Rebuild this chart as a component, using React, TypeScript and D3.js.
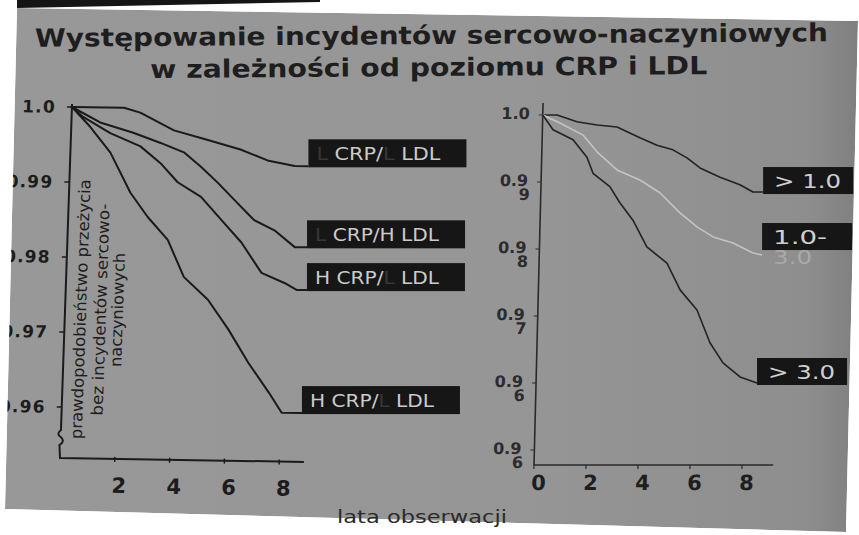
import * as d3 from "d3";
import { useEffect, useRef } from "react";

const W = 859;
const H = 535;

// Title
const titleLines = [
  "Występowanie incydentów sercowo-naczyniowych",
  "w zależności od poziomu CRP i LDL",
];
const xTitle = "lata obserwacji";

// Left panel: CRP / LDL groups
const leftYTicks = [1.0, 0.99, 0.98, 0.97, 0.96];
const leftYTickLabels = ["1.0", "0.99", "0.98", "0.97", "0.96"];
const leftXTicks = [2, 4, 6, 8];
const leftYTitle = ["prawdopodobieństwo przeżycia", "bez incydentów sercowo-", "naczyniowych"];
// level letters in each label: [CRP, LDL]
const leftLevels = [
  ["L", "L"],
  ["L", "H"],
  ["H", "L"],
  ["H", "L"],
];
const lowCrpLowLdl: [number, number][] = [
  [0, 1.0], [1.9, 1.0], [2.5, 0.9994], [3.75, 0.9971], [5.0, 0.9959], [6.2, 0.9947],
  [7.2, 0.9933], [8.2, 0.9926], [8.7, 0.9926],
];
const lowCrpHighLdl: [number, number][] = [
  [0, 1.0], [1.05, 0.998], [2.27, 0.9967], [3.28, 0.9954], [4.14, 0.9942], [4.78, 0.9923],
  [5.42, 0.9902], [6.03, 0.988], [6.79, 0.9853], [7.54, 0.984], [8.3, 0.9818], [8.75, 0.9818],
];
const highCrpLowLdl: [number, number][] = [
  [0, 1.0], [0.42, 0.9987], [1.43, 0.9966], [2.55, 0.9949], [3.3, 0.9927], [3.95, 0.9902],
  [4.82, 0.9883], [5.58, 0.9853], [6.35, 0.9823], [7.12, 0.9783], [7.97, 0.977], [8.42, 0.9761],
  [8.8, 0.9761],
];
const highCrpHighLdl: [number, number][] = [
  [0, 1.0], [0.69, 0.9974], [1.46, 0.994], [2.24, 0.9887], [2.9, 0.9855], [3.66, 0.9825],
  [4.29, 0.9776], [5.2, 0.9746], [5.98, 0.9707], [6.75, 0.9663], [7.53, 0.9624], [8.03, 0.9597],
  [8.77, 0.9597],
];
const leftSeries = [lowCrpLowLdl, lowCrpHighLdl, highCrpLowLdl, highCrpHighLdl];

// Right panel: CRP classes
const rightYTicks = [1.0, 0.99, 0.98, 0.97, 0.96, 0.95];
const rightYTickMain = ["1.0", "0.9", "0.9", "0.9", "0.9", "0.9"];
const rightYTickSub = ["", "9", "8", "7", "6", "6"];
const rightXTicks = [0, 2, 4, 6, 8];
const rightLabels = [["> 1.0"], ["1.0-", "3.0"], ["> 3.0"]];
const crpBelow1: [number, number][] = [
  [0, 1.0], [0.55, 1.0], [1.32, 0.999], [2.1, 0.9985], [2.87, 0.9982], [3.26, 0.9975],
  [3.76, 0.9966], [4.42, 0.9955], [5.04, 0.9948], [5.59, 0.9936], [6.1, 0.9921], [6.88, 0.9907],
  [7.65, 0.9896], [8.16, 0.9885], [8.55, 0.9885],
];
const crp1to3: [number, number][] = [
  [0, 1.0], [0.67, 0.9988], [1.57, 0.997], [2.12, 0.9945], [2.91, 0.9918], [3.8, 0.9903],
  [4.58, 0.9884], [5.37, 0.9854], [6.04, 0.9833], [6.67, 0.9818], [7.44, 0.9809], [8.22, 0.9794],
  [8.57, 0.9791],
];
const crpAbove3: [number, number][] = [
  [0, 1.0], [0.41, 0.9978], [1.19, 0.9963], [1.74, 0.9937], [1.99, 0.9913], [2.65, 0.9893],
  [3.05, 0.9869], [3.57, 0.9843], [4.13, 0.9803], [4.92, 0.9779], [5.45, 0.9739], [6.12, 0.9709],
  [6.65, 0.966], [7.17, 0.963], [7.84, 0.9609], [8.5, 0.96],
];
const rightSeries = [crpBelow1, crp1to3, crpAbove3];
const rightColors = ["#232323", "#c3c3c3", "#232323"];

const FONT = "'DejaVu Sans', sans-serif";

export default function App() {
  const ref = useRef<SVGSVGElement>(null);

  useEffect(() => {
    if (!ref.current) return;
    const svg = d3.select(ref.current);
    svg.selectAll("*").remove();

    // slide background (photo of a projected slide)
    const defs = svg.append("defs");
    const grad = defs.append("linearGradient").attr("id", "slideGrad")
      .attr("x1", "0").attr("x2", "1").attr("y1", "0").attr("y2", "0");
    grad.append("stop").attr("offset", "0").attr("stop-color", "#989898");
    grad.append("stop").attr("offset", "0.6").attr("stop-color", "#969696");
    grad.append("stop").attr("offset", "0.94").attr("stop-color", "#8e8e8e");
    grad.append("stop").attr("offset", "1").attr("stop-color", "#7f7f7f");

    const slide = [[17, 8], [858, 21], [846, 532], [5, 509]];
    svg.append("rect").attr("width", W).attr("height", H).attr("fill", "#ffffff");
    svg.append("polygon").attr("points", slide.map((p) => p.join(",")).join(" "))
      .attr("fill", "url(#slideGrad)");

    // title
    const title = svg.append("g").attr("transform", "rotate(-0.4, 430, 45)")
      .style("font-family", FONT).style("font-weight", "bold").attr("fill", "#1e1e1e");
    title.append("text").attr("x", 35).attr("y", 44).style("font-size", "25px")
      .attr("textLength", 793).attr("lengthAdjust", "spacingAndGlyphs").text(titleLines[0]);
    title.append("text").attr("x", 150).attr("y", 76).style("font-size", "25px")
      .attr("textLength", 557).attr("lengthAdjust", "spacingAndGlyphs").text(titleLines[1]);

    // ---------- left panel ----------
    const lm = { a: 1, b: 0.016, c: -0.034, d: 1, e: 15.57, f: -0.96 };
    const toScreen = (m: typeof lm, x: number, y: number) => [m.a * x + m.c * y + m.e, m.b * x + m.d * y + m.f];
    const xL = d3.scaleLinear().domain([0, 8]).range([60, 279.2]);
    const yL = d3.scaleLinear().domain([0.95, 1.0]).range([482, 107]);
    const gL = svg.append("g").attr("transform", `matrix(${lm.a},${lm.b},${lm.c},${lm.d},${lm.e},${lm.f})`);

    const axisColor = "#1b1b1b";
    const yBottomL = yL(0.9532);
    gL.append("path")
      .attr("d", `M${xL(0)},${yL(1.0) - 3}V${yBottomL - 28}q-5,4 0,7q5,4 -1,8L${xL(0)},${yBottomL}H${xL(8.9)}`)
      .attr("fill", "none").attr("stroke", axisColor).attr("stroke-width", 2);
    gL.selectAll(".ytick").data(leftYTicks).enter().append("line")
      .attr("x1", xL(0) - 5).attr("x2", xL(0)).attr("y1", (d) => yL(d)).attr("y2", (d) => yL(d))
      .attr("stroke", axisColor).attr("stroke-width", 1.5);
    gL.selectAll(".ylab").data(leftYTicks).enter().append("text")
      .attr("x", 44).attr("y", (d) => yL(d) + 6).attr("text-anchor", "end")
      .style("font-family", FONT).style("font-weight", "bold").style("font-size", "17px")
      .style("letter-spacing", "1.2px").attr("fill", "#1c1c1c")
      .text((_d, i) => leftYTickLabels[i]);
    gL.selectAll(".xtick").data(leftXTicks).enter().append("line")
      .attr("x1", (d) => xL(d)).attr("x2", (d) => xL(d)).attr("y1", yBottomL - 2).attr("y2", yBottomL + 3)
      .attr("stroke", axisColor).attr("stroke-width", 1.5);
    gL.selectAll(".xlab").data(leftXTicks).enter().append("text")
      .attr("x", (d) => xL(d) + 5).attr("y", 492).attr("text-anchor", "middle")
      .style("font-family", FONT).style("font-weight", "bold").style("font-size", "21px")
      .attr("fill", "#1c1c1c").text((d) => d);

    // rotated axis title
    const titleX = [81, 101, 118];
    const titleLen = [260, 212, 114];
    leftYTitle.forEach((t, i) => {
      gL.append("text").attr("transform", `translate(${titleX[i]},309) rotate(-90)`)
        .attr("text-anchor", "middle").style("font-family", FONT).style("font-size", "16px")
        .attr("fill", "#1e1e1e").attr("textLength", titleLen[i]).attr("lengthAdjust", "spacingAndGlyphs")
        .text(t);
    });

    const lineL = d3.line<[number, number]>().x((d) => xL(d[0])).y((d) => yL(d[1]));
    leftSeries.forEach((s) => {
      gL.append("path").attr("d", lineL(s)).attr("fill", "none")
        .attr("stroke", "#1a1a1a").attr("stroke-width", 2).attr("stroke-linejoin", "round");
    });

    // end-of-curve labels
    leftSeries.forEach((s, i) => {
      const last = s[s.length - 1];
      const [ex, ey] = toScreen(lm, xL(last[0]), yL(last[1]));
      const bx = ex, by = ey - 27;
      svg.append("rect").attr("x", bx).attr("y", by).attr("width", 158).attr("height", 28).attr("fill", "#161616");
      const [c, l] = leftLevels[i];
      const t = svg.append("text").attr("x", bx + 8).attr("y", by + 20.5)
        .style("font-family", FONT).style("font-size", "18px")
        .attr("textLength", 124).attr("lengthAdjust", "spacingAndGlyphs");
      const col = (lv: string) => (lv === "L" ? "#363636" : "#cbcbcb");
      t.append("tspan").attr("fill", col(c)).text(c);
      t.append("tspan").attr("fill", "#cbcbcb").text(" CRP/");
      t.append("tspan").attr("fill", col(l)).text(l);
      t.append("tspan").attr("fill", "#cbcbcb").text(" LDL");
    });

    // ---------- right panel ----------
    const rm = { a: 1, b: 0, c: -0.025, d: 1, e: 11.625, f: 0 };
    const xR = d3.scaleLinear().domain([0, 8]).range([534, 742]);
    const yR = d3.scaleLinear().domain([0.95, 1.0]).range([450, 115]);
    const gR = svg.append("g").attr("transform", `matrix(${rm.a},${rm.b},${rm.c},${rm.d},${rm.e},${rm.f})`);
    const axisR = "#2a2a2a";
    gR.append("path").attr("d", `M${xR(0)},103V465H${xR(9.2)}`)
      .attr("fill", "none").attr("stroke", axisR).attr("stroke-width", 1.6);
    gR.selectAll(".ytick").data(rightYTicks).enter().append("line")
      .attr("x1", xR(0) - 4).attr("x2", xR(0)).attr("y1", (d) => yR(d)).attr("y2", (d) => yR(d))
      .attr("stroke", axisR).attr("stroke-width", 1.2);
    gR.selectAll(".xtick").data(rightXTicks).enter().append("line")
      .attr("x1", (d) => xR(d)).attr("x2", (d) => xR(d)).attr("y1", 465).attr("y2", 469)
      .attr("stroke", axisR).attr("stroke-width", 1.2);
    const rLab = gR.selectAll(".ylab").data(rightYTicks).enter().append("g");
    rLab.append("text").attr("x", 521).attr("y", (d) => yR(d) + 4).attr("text-anchor", "end")
      .style("font-family", FONT).style("font-weight", "bold").style("font-size", "16px")
      .attr("fill", "#2c2c2c").text((_d, i) => rightYTickMain[i]);
    rLab.append("text").attr("x", 523).attr("y", (d) => yR(d) + 18).attr("text-anchor", "end")
      .style("font-family", FONT).style("font-weight", "bold").style("font-size", "16px")
      .attr("fill", "#2c2c2c").text((_d, i) => rightYTickSub[i]);
    gR.selectAll(".xlab").data(rightXTicks).enter().append("text")
      .attr("x", (d) => xR(d) + 5).attr("y", 490).attr("text-anchor", "middle")
      .style("font-family", FONT).style("font-weight", "bold").style("font-size", "21px")
      .attr("fill", "#1e1e1e").text((d) => d);

    const lineR = d3.line<[number, number]>().x((d) => xR(d[0])).y((d) => yR(d[1]));
    rightSeries.forEach((s, i) => {
      gR.append("path").attr("d", lineR(s)).attr("fill", "none")
        .attr("stroke", rightColors[i]).attr("stroke-width", 1.6).attr("stroke-linejoin", "round");
    });

    const boxDy = [-25, -32, -25];
    rightSeries.forEach((s, i) => {
      const last = s[s.length - 1];
      const [ex, ey] = toScreen(rm, xR(last[0]), yR(last[1]));
      const bx = ex, by = ey + boxDy[i];
      svg.append("rect").attr("x", bx).attr("y", by).attr("width", 90).attr("height", 27).attr("fill", "#161616");
      const parts = rightLabels[i];
      svg.append("text").attr("x", bx + 11).attr("y", by + 21)
        .style("font-family", FONT).style("font-size", "19px").attr("fill", "#cfcfcf")
        .attr("textLength", parts.length > 1 ? 54 : 67).attr("lengthAdjust", "spacingAndGlyphs")
        .text(parts[0]);
      if (parts.length > 1) {
        svg.append("text").attr("x", bx + 11).attr("y", by + 41)
          .style("font-family", FONT).style("font-size", "19px").attr("fill", "#a9a9a9")
          .attr("textLength", 39).attr("lengthAdjust", "spacingAndGlyphs").text(parts[1]);
      }
    });

    // white area outside the photographed slide
    svg.append("path")
      .attr("d", `M0,0H${W}V${H}H0Z M${slide.map((p) => p.join(",")).join("L")}Z`)
      .attr("fill-rule", "evenodd").attr("fill", "#ffffff");
    svg.append("polygon").attr("points", "17,0 320,0 320,2 17,8").attr("fill", "#151515");

    // x-axis title at the bottom edge
    svg.append("text").attr("x", 337).attr("y", 523)
      .style("font-family", FONT).style("font-size", "17px").attr("fill", "#2a2a2a")
      .attr("textLength", 170).attr("lengthAdjust", "spacingAndGlyphs").text(xTitle);
  }, []);

  return (
    <svg ref={ref} width={W} height={H}
      style={{ position: "absolute", left: 0, top: 0, display: "block" }} />
  );
}
